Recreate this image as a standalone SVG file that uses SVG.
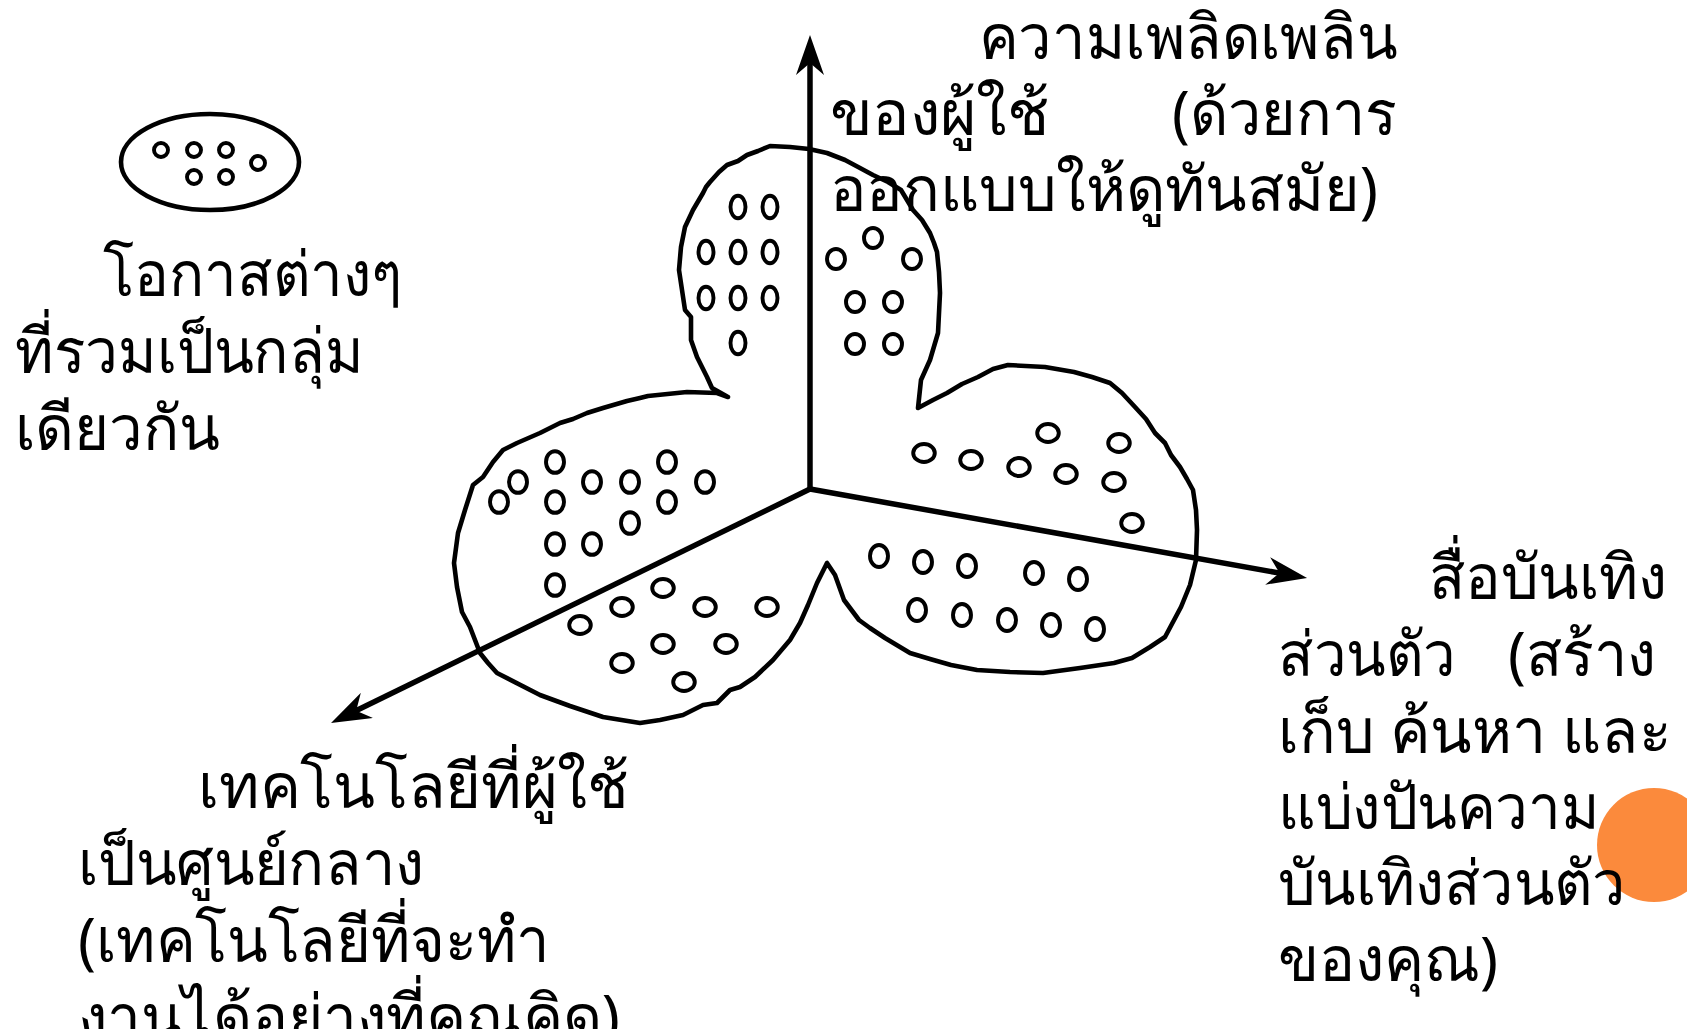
<svg xmlns="http://www.w3.org/2000/svg" width="1687" height="1029" viewBox="0 0 1687 1029">
  <style>
    .lbl { font-family: "Noto Sans", "DejaVu Sans", sans-serif; font-size: 62px; fill: #000; }
    .blob { fill: none; stroke: #000; stroke-width: 4.6; stroke-linejoin: round; stroke-linecap: round; }
    .dot { fill: none; stroke: #000; stroke-width: 3.9; }
    .axis { fill: none; stroke: #000; stroke-width: 5.5; }
  </style>
  <defs>
    <marker id="head" viewBox="0 0 40 28" markerWidth="40" markerHeight="28" refX="18" refY="14" markerUnits="userSpaceOnUse" orient="auto">
      <path d="M40,14 L0,0 L12,14 L0,28 Z" fill="#000"/>
    </marker>
  </defs>

  <rect width="1687" height="1029" fill="#fff"/>

  <!-- legend: one cluster of opportunities -->
  <g id="legend">
    <ellipse cx="210" cy="162" rx="89" ry="48" fill="none" stroke="#000" stroke-width="4.6"/>
    <circle class="dot" cx="161" cy="150" r="7"/>
    <circle class="dot" cx="194" cy="150" r="7"/>
    <circle class="dot" cx="226" cy="150" r="7"/>
    <circle class="dot" cx="258" cy="163" r="7"/>
    <circle class="dot" cx="194" cy="177" r="7"/>
    <circle class="dot" cx="226" cy="177" r="7"/>
  </g>

  <!-- three-lobed cluster region -->
  <g id="cluster">
    <path class="blob" d="M728,397 L712,388 L707,377 L697,357 L691,340 L691,317 L685,310 L682,290 L679,270 L681,247 L685,227 L693,210 L703,193 L706,187 L710,182 L719,172 L727,165 L738,161 L747,155 L758,151 L770,146 L790,147 L809,149 L827,153 L845,160 L860,168 L873,175 L888,182 L901,190 L913,210 L922,220 L930,233 L934,243 L937,252 L939,272 L940,293 L938,333 L930,360 L921,380 L918,408 L933,400 L947,393 L962,384 L978,377 L993,369 L1008,365 L1045,367 L1074,372 L1092,377 L1110,383 L1122,393 L1135,407 L1146,419 L1155,433 L1165,443 L1171,455 L1180,467 L1187,479 L1193,490 L1196,510 L1197,530 L1196,560 L1190,585 L1181,607 L1173,622 L1165,637 L1150,647 L1132,658 L1114,663 L1080,668 L1043,673 L1010,672 L977,670 L951,665 L930,659 L910,653 L885,638 L870,628 L859,620 L844,600 L835,575 L827,563 L817,583 L808,605 L800,623 L790,640 L773,660 L755,677 L740,687 L730,690 L717,703 L703,705 L683,715 L660,720 L640,723 L603,717 L570,706 L540,695 L497,673 L488,663 L480,653 L470,627 L462,612 L457,587 L454,563 L456,548 L458,533 L465,510 L473,485 L483,477 L493,462 L503,450 L517,443 L540,433 L560,423 L573,419 L587,413 L603,408 L627,401 L640,398 L648,396 L687,392 L717,393 Z"/>
    <!-- upper lobe, left of axis -->
    <ellipse class="dot" cx="738" cy="207" rx="7.5" ry="11.3"/>
    <ellipse class="dot" cx="770" cy="207" rx="7.5" ry="11.3"/>
    <ellipse class="dot" cx="706" cy="252" rx="7.5" ry="11.3"/>
    <ellipse class="dot" cx="738" cy="252" rx="7.5" ry="11.3"/>
    <ellipse class="dot" cx="770" cy="252" rx="7.5" ry="11.3"/>
    <ellipse class="dot" cx="706" cy="298" rx="7.5" ry="11.3"/>
    <ellipse class="dot" cx="738" cy="298" rx="7.5" ry="11.3"/>
    <ellipse class="dot" cx="770" cy="298" rx="7.5" ry="11.3"/>
    <ellipse class="dot" cx="738" cy="343" rx="7.5" ry="11.3"/>
    <!-- upper lobe, right of axis -->
    <ellipse class="dot" cx="873" cy="238" rx="9" ry="10"/>
    <ellipse class="dot" cx="836" cy="259" rx="9" ry="10"/>
    <ellipse class="dot" cx="912" cy="259" rx="9" ry="10"/>
    <ellipse class="dot" cx="855" cy="302" rx="9" ry="10"/>
    <ellipse class="dot" cx="893" cy="302" rx="9" ry="10"/>
    <ellipse class="dot" cx="855" cy="344" rx="9" ry="10"/>
    <ellipse class="dot" cx="893" cy="344" rx="9" ry="10"/>
    <!-- left lobe, above left axis -->
    <ellipse class="dot" cx="555" cy="462" rx="9" ry="10.8"/>
    <ellipse class="dot" cx="518" cy="482" rx="9" ry="10.8"/>
    <ellipse class="dot" cx="499" cy="502" rx="9" ry="10.8"/>
    <ellipse class="dot" cx="555" cy="502" rx="9" ry="10.8"/>
    <ellipse class="dot" cx="592" cy="482" rx="9" ry="10.8"/>
    <ellipse class="dot" cx="630" cy="482" rx="9" ry="10.8"/>
    <ellipse class="dot" cx="667" cy="462" rx="9" ry="10.8"/>
    <ellipse class="dot" cx="667" cy="502" rx="9" ry="10.8"/>
    <ellipse class="dot" cx="705" cy="482" rx="9" ry="10.8"/>
    <ellipse class="dot" cx="630" cy="523" rx="9" ry="10.8"/>
    <ellipse class="dot" cx="555" cy="544" rx="9" ry="10.8"/>
    <ellipse class="dot" cx="592" cy="544" rx="9" ry="10.8"/>
    <ellipse class="dot" cx="555" cy="585" rx="9" ry="10.8"/>
    <!-- left lobe, below left axis -->
    <ellipse class="dot" cx="663" cy="588" rx="10.8" ry="9"/>
    <ellipse class="dot" cx="622" cy="607" rx="10.8" ry="9"/>
    <ellipse class="dot" cx="580" cy="625" rx="10.8" ry="9"/>
    <ellipse class="dot" cx="705" cy="607" rx="10.8" ry="9"/>
    <ellipse class="dot" cx="767" cy="607" rx="10.8" ry="9"/>
    <ellipse class="dot" cx="663" cy="644" rx="10.8" ry="9"/>
    <ellipse class="dot" cx="726" cy="644" rx="10.8" ry="9"/>
    <ellipse class="dot" cx="622" cy="663" rx="10.8" ry="9"/>
    <ellipse class="dot" cx="684" cy="682" rx="10.8" ry="9"/>
    <!-- right lobe, above right axis -->
    <ellipse class="dot" cx="924" cy="453" rx="10.8" ry="9"/>
    <ellipse class="dot" cx="971" cy="460" rx="10.8" ry="9"/>
    <ellipse class="dot" cx="1019" cy="467" rx="10.8" ry="9"/>
    <ellipse class="dot" cx="1048" cy="433" rx="10.8" ry="9"/>
    <ellipse class="dot" cx="1066" cy="474" rx="10.8" ry="9"/>
    <ellipse class="dot" cx="1119" cy="443" rx="10.8" ry="9"/>
    <ellipse class="dot" cx="1114" cy="482" rx="10.8" ry="9"/>
    <ellipse class="dot" cx="1132" cy="523" rx="10.8" ry="9"/>
    <!-- right lobe, below right axis -->
    <ellipse class="dot" cx="879" cy="556" rx="9" ry="11"/>
    <ellipse class="dot" cx="923" cy="562" rx="9" ry="11"/>
    <ellipse class="dot" cx="967" cy="566" rx="9" ry="11"/>
    <ellipse class="dot" cx="1034" cy="573" rx="9" ry="11"/>
    <ellipse class="dot" cx="1078" cy="579" rx="9" ry="11"/>
    <ellipse class="dot" cx="917" cy="610" rx="9" ry="11"/>
    <ellipse class="dot" cx="962" cy="615" rx="9" ry="11"/>
    <ellipse class="dot" cx="1007" cy="620" rx="9" ry="11"/>
    <ellipse class="dot" cx="1051" cy="625" rx="9" ry="11"/>
    <ellipse class="dot" cx="1095" cy="629" rx="9" ry="11"/>
  </g>

  <!-- three axes from a common origin -->
  <g id="axes">
    <line class="axis" x1="810" y1="489" x2="810" y2="57" marker-end="url(#head)"/>
    <line class="axis" x1="810" y1="489" x2="1285.4" y2="574.1" marker-end="url(#head)"/>
    <line class="axis" x1="810" y1="489" x2="350.8" y2="713.3" marker-end="url(#head)"/>
  </g>

  <circle id="bullet" cx="1654" cy="845" r="57" fill="#FB8A3C"/>

  <g id="label-groups">
    <text class="lbl" x="103" y="296" textLength="299" lengthAdjust="spacingAndGlyphs">โอกาสต่างๆ</text>
    <text class="lbl" x="15" y="373" textLength="349" lengthAdjust="spacingAndGlyphs">ที่รวมเป็นกลุ่ม</text>
    <text class="lbl" x="15" y="450" textLength="205" lengthAdjust="spacingAndGlyphs">เดียวกัน</text>
  </g>

  <g id="label-enjoyment">
    <text class="lbl" x="979" y="59" textLength="418" lengthAdjust="spacingAndGlyphs">ความเพลิดเพลิน</text>
    <text class="lbl" x="830" y="135" textLength="219" lengthAdjust="spacingAndGlyphs">ของผู้ใช้</text>
    <text class="lbl" x="1172" y="135" textLength="225" lengthAdjust="spacingAndGlyphs">(ด้วยการ</text>
    <text class="lbl" x="830" y="211" textLength="548" lengthAdjust="spacingAndGlyphs">ออกแบบให้ดูทันสมัย)</text>
  </g>

  <g id="label-media">
    <text class="lbl" x="1429" y="599" textLength="238" lengthAdjust="spacingAndGlyphs">สื่อบันเทิง</text>
    <text class="lbl" x="1278" y="676" textLength="178" lengthAdjust="spacingAndGlyphs">ส่วนตัว</text>
    <text class="lbl" x="1508" y="676" textLength="148" lengthAdjust="spacingAndGlyphs">(สร้าง</text>
    <text class="lbl" x="1278" y="753" textLength="393" lengthAdjust="spacingAndGlyphs">เก็บ ค้นหา และ</text>
    <text class="lbl" x="1278" y="829" textLength="322" lengthAdjust="spacingAndGlyphs">แบ่งปันความ</text>
    <text class="lbl" x="1278" y="905" textLength="348" lengthAdjust="spacingAndGlyphs">บันเทิงส่วนตัว</text>
    <text class="lbl" x="1278" y="981" textLength="220" lengthAdjust="spacingAndGlyphs">ของคุณ)</text>
  </g>

  <g id="label-technology">
    <text class="lbl" x="198" y="808" textLength="431" lengthAdjust="spacingAndGlyphs">เทคโนโลยีที่ผู้ใช้</text>
    <text class="lbl" x="78" y="885" textLength="346" lengthAdjust="spacingAndGlyphs">เป็นศูนย์กลาง</text>
    <text class="lbl" x="78" y="962" textLength="472" lengthAdjust="spacingAndGlyphs">(เทคโนโลยีที่จะทำ</text>
    <text class="lbl" x="78" y="1039" textLength="542" lengthAdjust="spacingAndGlyphs">งานได้อย่างที่คุณคิด)</text>
  </g>
</svg>
